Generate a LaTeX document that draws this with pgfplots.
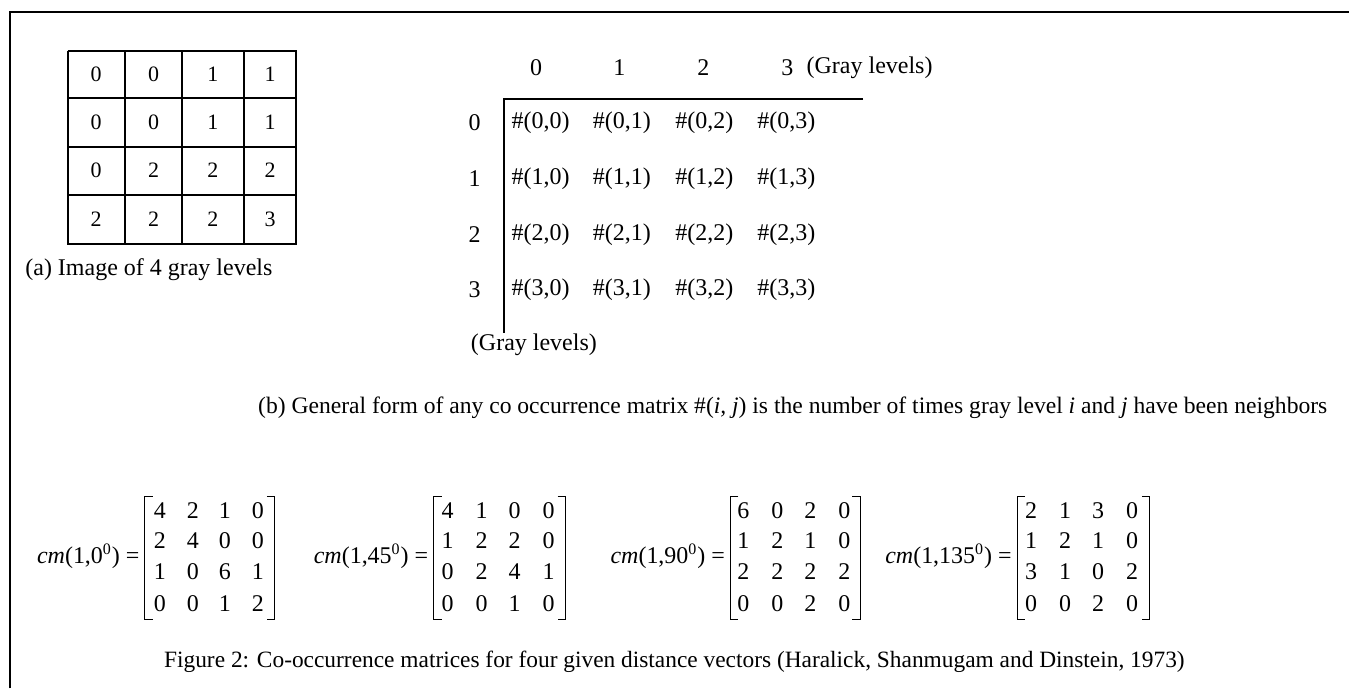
\documentclass[border=0pt]{standalone}
\usepackage{fontspec}
\setmainfont{Liberation Serif}
\usepackage{pgfplots}
\pgfplotsset{compat=1.18}
\newcommand{\mfont}{\fontsize{12}{14}\selectfont}
\newcommand{\tfont}{\fontsize{12}{14}\selectfont}
\begin{document}
\begin{tikzpicture}
\begin{axis}[scale only axis, width=675pt, height=344.5pt,
  xmin=0, xmax=1350, ymin=-689, ymax=0, axis lines=none, clip=false,
  every axis plot/.append style={black},
  num/.style={only marks, mark=none, nodes near coords, point meta=explicit symbolic,
    every node near coord/.style={anchor=center, inner sep=0pt, font=#1}},
  num/.default=\mfont]
\path (axis cs:0,0) rectangle (axis cs:1350,-689);
% frame
\addplot[line width=1.2pt] coordinates {(10,-689) (10,-12) (1350,-12)};
% (a) grid
\addplot[line width=1pt] coordinates {(67.7,-50.7) (296.7,-50.7) (296.7,-244.3) (67.7,-244.3) (67.7,-50.7)};
\addplot[line width=1pt] coordinates {(125,-50.7) (125,-244.3)};
\addplot[line width=1pt] coordinates {(182.3,-50.7) (182.3,-244.3)};
\addplot[line width=1pt] coordinates {(244,-50.7) (244,-244.3)};
\addplot[line width=1pt] coordinates {(67.7,-98.3) (296.7,-98.3)};
\addplot[line width=1pt] coordinates {(67.7,-146.7) (296.7,-146.7)};
\addplot[line width=1pt] coordinates {(67.7,-195) (296.7,-195)};
\addplot[num=\fontsize{11}{13}\selectfont] coordinates {
 (96.3,-74.5)[0] (153.7,-74.5)[0] (213,-74.5)[1] (270.3,-74.5)[1]
 (96.3,-122.5)[0] (153.7,-122.5)[0] (213,-122.5)[1] (270.3,-122.5)[1]
 (96.3,-170.8)[0] (153.7,-170.8)[2] (213,-170.8)[2] (270.3,-170.8)[2]
 (96.3,-219.7)[2] (153.7,-219.7)[2] (213,-219.7)[2] (270.3,-219.7)[3]};
\node[anchor=west, inner sep=0pt, font=\tfont] at (axis cs:25,-270) {(a) Image of 4 gray levels};
% (b) general form
\addplot[line width=1pt] coordinates {(864,-99) (504,-99) (504,-333)};
\addplot[num=\tfont] coordinates {
 (536.7,-68)[0] (620,-68)[1] (704,-68)[2] (788,-68)[3]
 (475,-123)[0] (475,-179)[1] (475,-235)[2] (475,-290)[3]};
\addplot[num=\tfont] coordinates {
 (541,-123)[\#(0{,}0)] (622.5,-123)[\#(0{,}1)] (705,-123)[\#(0{,}2)] (787,-123)[\#(0{,}3)]
 (541,-179)[\#(1{,}0)] (622.5,-179)[\#(1{,}1)] (705,-179)[\#(1{,}2)] (787,-179)[\#(1{,}3)]
 (541,-235)[\#(2{,}0)] (622.5,-235)[\#(2{,}1)] (705,-235)[\#(2{,}2)] (787,-235)[\#(2{,}3)]
 (541,-290)[\#(3{,}0)] (622.5,-290)[\#(3{,}1)] (705,-290)[\#(3{,}2)] (787,-290)[\#(3{,}3)]};
\node[anchor=west, inner sep=0pt, font=\tfont] at (axis cs:807,-68) {(Gray levels)};
\node[anchor=west, inner sep=0pt, font=\tfont] at (axis cs:471,-345) {(Gray levels)};
\node[anchor=west, inner sep=0pt, font=\fontsize{11.8}{14}\selectfont] at (axis cs:258,-408) {(b) General form of any co occurrence matrix \#(\textit{i, j}) is the number of times gray level \textit{i} and \textit{j} have been neighbors};
% co-occurrence matrices
\node[anchor=east, inner sep=0pt, font=\tfont] at (axis cs:140,-557) {\textit{cm}(1,0\textsuperscript{0}) =};
\node[anchor=east, inner sep=0pt, font=\tfont] at (axis cs:429,-557) {\textit{cm}(1,45\textsuperscript{0}) =};
\node[anchor=east, inner sep=0pt, font=\tfont] at (axis cs:726,-557) {\textit{cm}(1,90\textsuperscript{0}) =};
\node[anchor=east, inner sep=0pt, font=\tfont] at (axis cs:1013,-557) {\textit{cm}(1,135\textsuperscript{0}) =};
% brackets
\addplot[line width=0.5pt] coordinates {(153,-497) (145,-497) (145,-620) (153,-620)};
\addplot[line width=0.5pt] coordinates {(267,-497) (275,-497) (275,-620) (267,-620)};
\addplot[line width=0.5pt] coordinates {(442,-497) (434,-497) (434,-620) (442,-620)};
\addplot[line width=0.5pt] coordinates {(558,-497) (566,-497) (566,-620) (558,-620)};
\addplot[line width=0.5pt] coordinates {(739,-497) (731,-497) (731,-620) (739,-620)};
\addplot[line width=0.5pt] coordinates {(853,-497) (861,-497) (861,-620) (853,-620)};
\addplot[line width=0.5pt] coordinates {(1026,-497) (1018,-497) (1018,-620) (1026,-620)};
\addplot[line width=0.5pt] coordinates {(1143,-497) (1151,-497) (1151,-620) (1143,-620)};
% cm(1,0)
\addplot[num] coordinates {
 (160,-511)[4] (193,-511)[2] (225,-511)[1] (258,-511)[0]
 (160,-541)[2] (193,-541)[4] (225,-541)[0] (258,-541)[0]
 (160,-572)[1] (193,-572)[0] (225,-572)[6] (258,-572)[1]
 (160,-604)[0] (193,-604)[0] (225,-604)[1] (258,-604)[2]};
% cm(1,45)
\addplot[num] coordinates {
 (448,-511)[4] (482,-511)[1] (515,-511)[0] (549,-511)[0]
 (448,-541)[1] (482,-541)[2] (515,-541)[2] (549,-541)[0]
 (448,-572)[0] (482,-572)[2] (515,-572)[4] (549,-572)[1]
 (448,-604)[0] (482,-604)[0] (515,-604)[1] (549,-604)[0]};
% cm(1,90)
\addplot[num] coordinates {
 (744,-511)[6] (778,-511)[0] (811,-511)[2] (845,-511)[0]
 (744,-541)[1] (778,-541)[2] (811,-541)[1] (845,-541)[0]
 (744,-572)[2] (778,-572)[2] (811,-572)[2] (845,-572)[2]
 (744,-604)[0] (778,-604)[0] (811,-604)[2] (845,-604)[0]};
% cm(1,135)
\addplot[num] coordinates {
 (1032,-511)[2] (1066,-511)[1] (1099,-511)[3] (1133,-511)[0]
 (1032,-541)[1] (1066,-541)[2] (1099,-541)[1] (1133,-541)[0]
 (1032,-572)[3] (1066,-572)[1] (1099,-572)[0] (1133,-572)[2]
 (1032,-604)[0] (1066,-604)[0] (1099,-604)[2] (1133,-604)[0]};
\node[anchor=center, inner sep=0pt, font=\fontsize{11.7}{14}\selectfont] at (axis cs:675,-662) {Figure 2: Co-occurrence matrices for four given distance vectors (Haralick, Shanmugam and Dinstein, 1973)};
\end{axis}
\end{tikzpicture}
\end{document}
